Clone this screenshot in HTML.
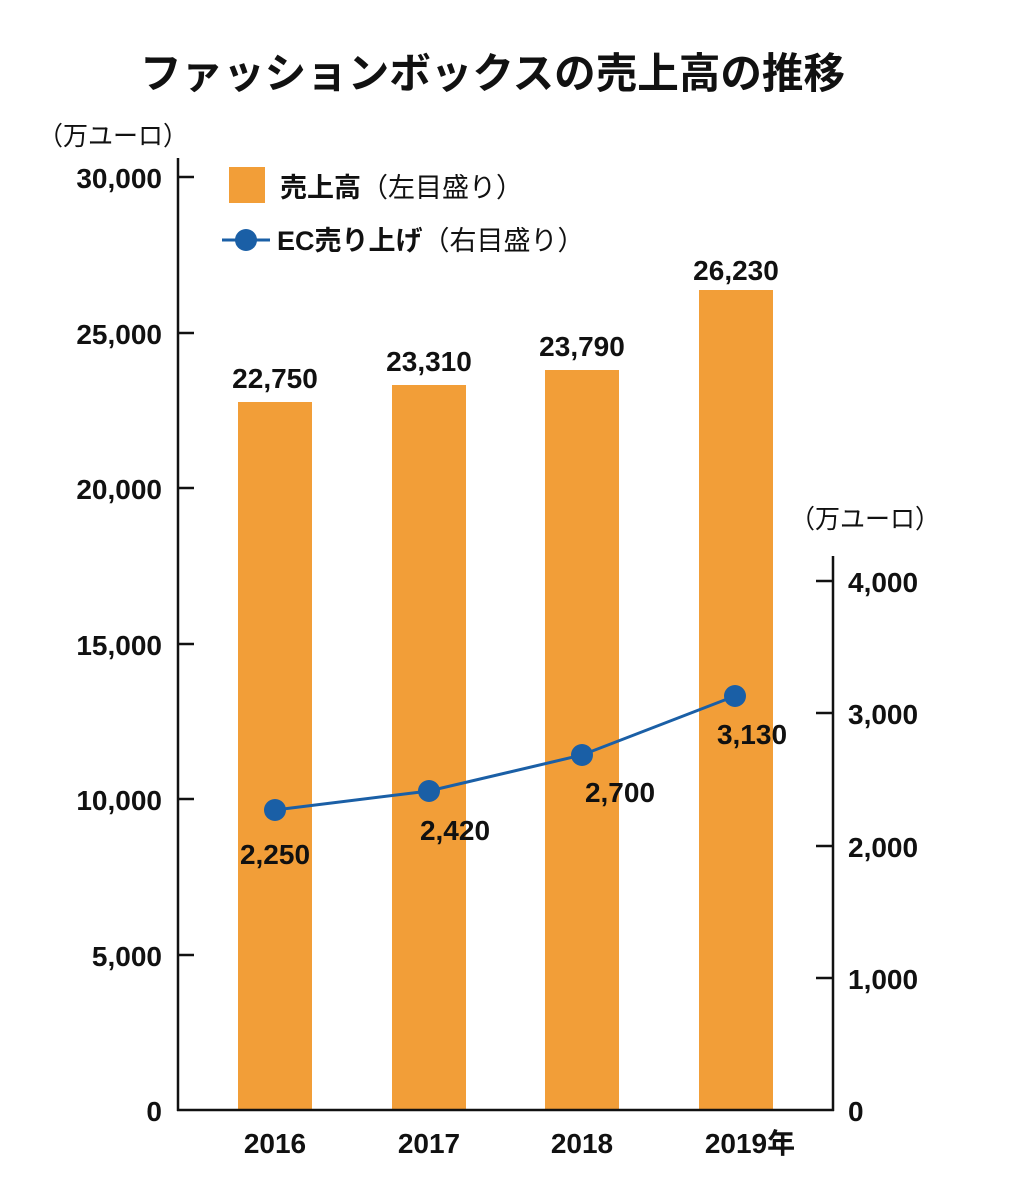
<!DOCTYPE html>
<html><head><meta charset="utf-8"><style>
html,body{margin:0;padding:0;background:#fff;}
svg{display:block;}
text{font-family:"Liberation Sans","Noto Sans CJK JP",sans-serif;fill:#111;}
</style></head><body>
<svg width="1034" height="1200" viewBox="0 0 1034 1200">
<text x="140" y="88" font-size="42" font-weight="bold" textLength="705" lengthAdjust="spacingAndGlyphs">ファッションボックスの売上高の推移</text>
<text x="38" y="145" font-size="26" textLength="150" lengthAdjust="spacingAndGlyphs">（万ユーロ）</text>
<text x="790" y="528" font-size="26" textLength="150" lengthAdjust="spacingAndGlyphs">（万ユーロ）</text>
<g fill="#F29E38">
<rect x="238" y="402" width="74" height="708"/>
<rect x="392" y="385" width="74" height="725"/>
<rect x="545" y="370" width="74" height="740"/>
<rect x="699" y="290" width="74" height="820"/>
</g>
<g stroke="#111" stroke-width="2.5" fill="none">
<line x1="178" y1="158" x2="178" y2="1111"/>
<line x1="177" y1="1110" x2="834" y2="1110"/>
<line x1="833" y1="556" x2="833" y2="1111"/>
<line x1="178" y1="177" x2="194" y2="177"/>
<line x1="178" y1="333" x2="194" y2="333"/>
<line x1="178" y1="488" x2="194" y2="488"/>
<line x1="178" y1="644" x2="194" y2="644"/>
<line x1="178" y1="799" x2="194" y2="799"/>
<line x1="178" y1="955" x2="194" y2="955"/>
<line x1="816" y1="581" x2="833" y2="581"/>
<line x1="816" y1="713" x2="833" y2="713"/>
<line x1="816" y1="846" x2="833" y2="846"/>
<line x1="816" y1="978" x2="833" y2="978"/>
</g>
<g font-size="28" font-weight="bold" text-anchor="end">
<text x="162" y="188">30,000</text>
<text x="162" y="344">25,000</text>
<text x="162" y="499">20,000</text>
<text x="162" y="655">15,000</text>
<text x="162" y="810">10,000</text>
<text x="162" y="966">5,000</text>
<text x="162" y="1121">0</text>
</g>
<g font-size="28" font-weight="bold">
<text x="848" y="592">4,000</text>
<text x="848" y="724">3,000</text>
<text x="848" y="857">2,000</text>
<text x="848" y="989">1,000</text>
<text x="848" y="1121">0</text>
</g>
<g font-size="28" font-weight="bold" text-anchor="middle">
<text x="275" y="1153">2016</text>
<text x="429" y="1153">2017</text>
<text x="582" y="1153">2018</text>
<text x="750" y="1153">2019年</text>
<text x="275" y="388">22,750</text>
<text x="429" y="371">23,310</text>
<text x="582" y="356">23,790</text>
<text x="736" y="280">26,230</text>
<text x="275" y="864">2,250</text>
<text x="455" y="840">2,420</text>
<text x="620" y="802">2,700</text>
<text x="752" y="744">3,130</text>
</g>
<polyline points="275,810 429,791 582,755 735,696" fill="none" stroke="#1A5FA6" stroke-width="3"/>
<g fill="#1A5FA6">
<circle cx="275" cy="810" r="11"/>
<circle cx="429" cy="791" r="11"/>
<circle cx="582" cy="755" r="11"/>
<circle cx="735" cy="696" r="11"/>
</g>
<rect x="229" y="167" width="36" height="36" fill="#F29E38"/>
<text x="280" y="197" font-size="27"><tspan font-weight="bold">売上高</tspan>（左目盛り）</text>
<line x1="222" y1="240" x2="270" y2="240" stroke="#1A5FA6" stroke-width="3"/>
<circle cx="246" cy="240" r="11" fill="#1A5FA6"/>
<text x="277" y="250" font-size="27"><tspan font-weight="bold">EC売り上げ</tspan>（右目盛り）</text>
</svg>
</body></html>
